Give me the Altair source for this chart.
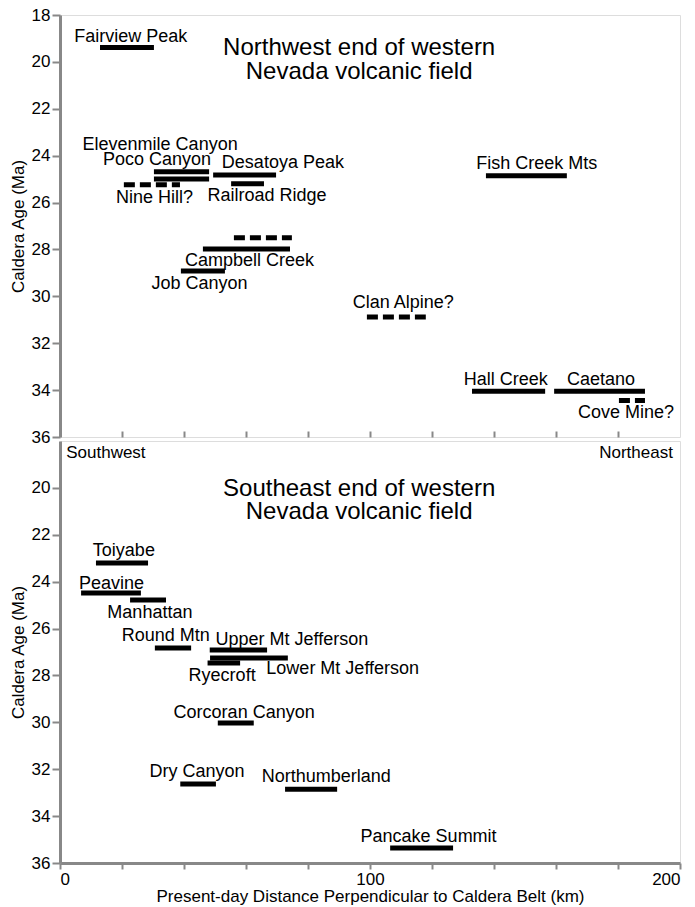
import altair as alt
import pandas as pd

FONT = "Liberation Sans"

# ---------------- Top panel (Northwest end) ----------------
top_bar_name = ["Fairview Peak", "Elevenmile Canyon", "Poco Canyon", "Desatoya Peak",
                "Railroad Ridge", "Nine Hill?", "Campbell Creek", "Campbell Creek (alt)",
                "Job Canyon", "Fish Creek Mts", "Clan Alpine?", "Hall Creek", "Caetano",
                "Cove Mine?"]
top_x1 = [12.9, 30.3, 30.3, 49.4, 55.2, 20.6, 46.1, 56.1, 39.0, 137.4, 99.0, 132.9, 159.4, 180.3]
top_x2 = [30.3, 48.1, 48.1, 69.7, 65.8, 38.7, 74.2, 74.8, 53.2, 163.5, 118.0, 156.5, 188.7, 188.7]
top_age = [19.39, 24.69, 24.99, 24.82, 25.20, 25.24, 27.98, 27.50, 28.92, 24.86, 30.88, 34.05, 34.05, 34.44]
top_style = ["solid", "solid", "solid", "solid", "solid", "dashed", "solid", "dashed",
             "solid", "solid", "dashed", "solid", "solid", "dashed"]

top_label = ["Fairview Peak", "Elevenmile Canyon", "Poco Canyon", "Desatoya Peak",
             "Railroad Ridge", "Nine Hill?", "Campbell Creek", "Job Canyon",
             "Fish Creek Mts", "Clan Alpine?", "Hall Creek", "Caetano", "Cove Mine?"]
top_label_x = [22.8, 32.3, 31.3, 71.9, 66.8, 30.5, 61.1, 45.0, 153.8, 110.7, 143.8, 174.5, 182.6]
top_label_y = [18.93, 23.53, 24.20, 24.30, 25.71, 25.80, 28.48, 29.47, 24.37, 30.28, 33.57, 33.58, 34.97]

top_title = ["Northwest end of western", "Nevada volcanic field"]
top_title_x = [96.5, 96.5]
top_title_y = [19.39, 20.41]

# ---------------- Bottom panel (Southeast end) ----------------
bot_bar_name = ["Toiyabe", "Peavine", "Manhattan", "Round Mtn", "Upper Mt Jefferson",
                "Lower Mt Jefferson", "Ryecroft", "Corcoran Canyon", "Dry Canyon",
                "Northumberland", "Pancake Summit"]
bot_x1 = [11.6, 6.8, 22.6, 30.6, 48.3, 48.4, 47.6, 50.9, 38.8, 72.6, 106.5]
bot_x2 = [28.4, 26.1, 34.2, 42.3, 66.8, 73.5, 58.1, 62.5, 50.3, 89.4, 126.8]
bot_age = [23.20, 24.48, 24.78, 26.83, 26.92, 27.26, 27.47, 30.03, 32.63, 32.85, 35.36]
bot_style = ["solid"] * 11

bot_label = ["Toiyabe", "Peavine", "Manhattan", "Round Mtn", "Upper Mt Jefferson",
             "Lower Mt Jefferson", "Ryecroft", "Corcoran Canyon", "Dry Canyon",
             "Northumberland", "Pancake Summit"]
bot_label_x = [20.6, 16.6, 29.0, 34.1, 74.8, 91.2, 52.3, 59.4, 44.2, 85.9, 118.9]
bot_label_y = [22.71, 24.08, 25.34, 26.30, 26.50, 27.71, 28.03, 29.61, 32.11, 32.35, 34.90]

bot_title = ["Southeast end of western", "Nevada volcanic field"]
bot_title_x = [96.5, 96.5]
bot_title_y = [20.05, 21.03]

dir_text = ["Southwest", "Northeast"]
dir_x = [2.0, 197.7]
dir_y = [18.52, 18.53]
dir_align = ["left", "right"]

age_ticks_top = [18, 20, 22, 24, 26, 28, 30, 32, 34, 36]
age_ticks_bot = [20, 22, 24, 26, 28, 30, 32, 34, 36]
dist_ticks = [0, 20, 40, 60, 80, 100, 120, 140, 160, 180, 200]
dist_inner_ticks = [20, 40, 60, 80, 100, 120, 140, 160, 180]

x_scale = alt.Scale(domain=[0, 200], nice=False, zero=False)
y_scale = alt.Scale(domain=[18, 36], reverse=True, nice=False, zero=False)
dash_scale = alt.Scale(domain=["solid", "dashed"], range=[[1, 0], [11, 5]])

W, H = 620, 422


def y_axis(values):
    return alt.Axis(values=values, title="Caldera Age (Ma)", tickSize=8, tickWidth=2,
                    domainWidth=3, labelFontSize=17, labelPadding=2, titleFontSize=17,
                    titleFontWeight="normal", titlePadding=4, grid=False)


def panel(bar_df, lab_df, title_df, y_vals, x_axis, extra=None):
    bars = alt.Chart(bar_df).mark_rule(strokeWidth=5, strokeCap="butt", color="black").encode(
        x=alt.X("x1:Q", scale=x_scale, axis=x_axis),
        x2="x2:Q",
        y=alt.Y("age:Q", scale=y_scale, axis=y_axis(y_vals)),
        strokeDash=alt.StrokeDash("style:N", scale=dash_scale, legend=None),
    )
    labels = alt.Chart(lab_df).mark_text(font=FONT, fontSize=18, align="center",
                                         baseline="middle", color="black").encode(
        x=alt.X("x:Q", scale=x_scale), y=alt.Y("y:Q", scale=y_scale), text="t:N")
    titles = alt.Chart(title_df).mark_text(font=FONT, fontSize=24, align="center",
                                           baseline="middle", color="black").encode(
        x=alt.X("x:Q", scale=x_scale), y=alt.Y("y:Q", scale=y_scale), text="t:N")
    layers = [bars, labels, titles]
    if extra is not None:
        layers.append(extra)
    return alt.layer(*layers).properties(width=W, height=H)


top_bars = pd.DataFrame({"name": top_bar_name, "x1": top_x1, "x2": top_x2,
                         "age": top_age, "style": top_style})
top_labs = pd.DataFrame({"t": top_label, "x": top_label_x, "y": top_label_y})
top_tit = pd.DataFrame({"t": top_title, "x": top_title_x, "y": top_title_y})

bot_bars = pd.DataFrame({"name": bot_bar_name, "x1": bot_x1, "x2": bot_x2,
                         "age": bot_age, "style": bot_style})
bot_labs = pd.DataFrame({"t": bot_label, "x": bot_label_x, "y": bot_label_y})
bot_tit = pd.DataFrame({"t": bot_title, "x": bot_title_x, "y": bot_title_y})
dirs = pd.DataFrame({"t": dir_text, "x": dir_x, "y": dir_y, "a": dir_align})

top_x_axis = alt.Axis(values=dist_inner_ticks, labels=False, domain=False, title=None,
                      tickSize=6, tickWidth=2, offset=-6, grid=False,
                      minExtent=0, maxExtent=0)
bot_x_axis = alt.Axis(values=dist_ticks, labelExpr="datum.value % 100 === 0 ? datum.label : ''",
                      title="Present-day Distance Perpendicular to Caldera Belt (km)",
                      tickSize=6, tickWidth=2, domainWidth=3, labelFontSize=17,
                      labelPadding=2, titleFontSize=17, titleFontWeight="normal",
                      titlePadding=1, grid=False)

dir_left = alt.Chart(dirs).transform_filter("datum.a === 'left'").mark_text(
    font=FONT, fontSize=17, align="left", baseline="middle", color="black").encode(
    x=alt.X("x:Q", scale=x_scale), y=alt.Y("y:Q", scale=y_scale), text="t:N")
dir_right = alt.Chart(dirs).transform_filter("datum.a === 'right'").mark_text(
    font=FONT, fontSize=17, align="right", baseline="middle", color="black").encode(
    x=alt.X("x:Q", scale=x_scale), y=alt.Y("y:Q", scale=y_scale), text="t:N")

top_panel = panel(top_bars, top_labs, top_tit, age_ticks_top, top_x_axis)
bot_panel = alt.layer(panel(bot_bars, bot_labs, bot_tit, age_ticks_bot, bot_x_axis),
                      dir_left, dir_right)

chart = alt.vconcat(top_panel, bot_panel, spacing=4, bounds="flush").properties(
    padding={"left": 0, "top": -3, "right": 0, "bottom": 0}
).configure_view(stroke="black", strokeWidth=2).configure_axis(
    labelFont=FONT, titleFont=FONT, labelColor="black", titleColor="black",
    tickColor="black", domainColor="black"
).configure(background="white")

chart.save("out.html", embed_options={"renderer": "svg", "actions": False})
